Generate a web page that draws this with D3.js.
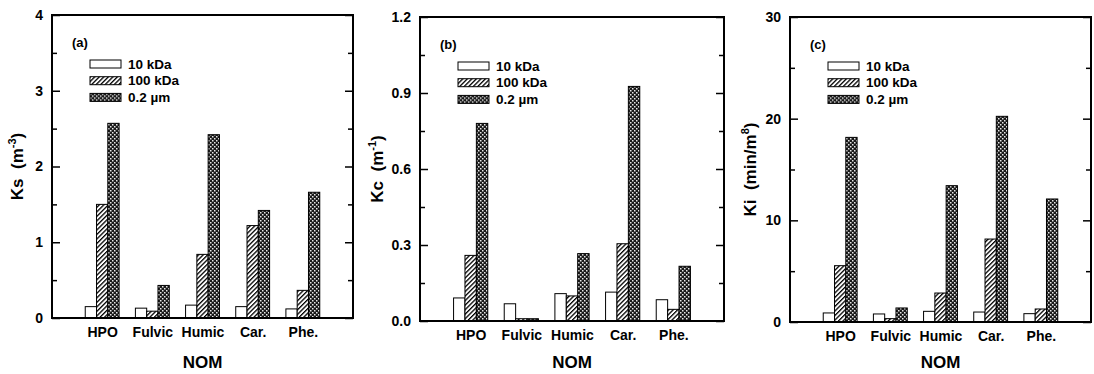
<!DOCTYPE html>
<html>
<head>
<meta charset="utf-8">
<script src="https://cdn.jsdelivr.net/npm/d3@7/dist/d3.min.js"></script>
<style>
  html, body { margin: 0; padding: 0; background: #fff; }
  svg { display: block; }
  text { font-family: Arial, "Liberation Sans", Helvetica, sans-serif; font-weight: bold; fill: #000; }
</style>
</head>
<body>
<svg id="chart" width="1094" height="374"></svg>
<script>
// NOM fractions on the x axis
const categories = ["HPO", "Fulvic", "Humic", "Car.", "Phe."];
// membrane pore sizes (one bar per group)
const seriesNames = ["10 kDa", "100 kDa", "0.2 \u00b5m"];

// (a) Ks, m^-3
const ks10k  = [0.15, 0.13, 0.17, 0.15, 0.12];
const ks100k = [1.50, 0.09, 0.84, 1.22, 0.365];
const ks02   = [2.57, 0.43, 2.42, 1.42, 1.66];
const ksTicks = [0, 1, 2, 3, 4];

// (b) Kc, m^-1
const kc10k  = [0.091, 0.068, 0.108, 0.114, 0.084];
const kc100k = [0.259, 0.009, 0.099, 0.305, 0.046];
const kc02   = [0.78, 0.009, 0.266, 0.926, 0.216];
const kcTicks = [0.0, 0.3, 0.6, 0.9, 1.2];

// (c) Ki, min/m^8
const ki10k  = [0.89, 0.79, 1.05, 0.98, 0.82];
const ki100k = [5.54, 0.33, 2.85, 8.16, 1.28];
const ki02   = [18.16, 1.38, 13.41, 20.23, 12.1];
const kiTicks = [0, 10, 20, 30];

const svg = d3.select("#chart");

// fill patterns: plain, diagonal hatch, dark dotted checker
const defs = svg.append("defs");
const hatch = defs.append("pattern")
  .attr("id", "hatch").attr("patternUnits", "userSpaceOnUse")
  .attr("width", 3.2).attr("height", 3.2)
  .attr("patternTransform", "rotate(45)");
hatch.append("rect").attr("width", 3.2).attr("height", 3.2).attr("fill", "#fff");
hatch.append("rect").attr("width", 1.3).attr("height", 3.2).attr("fill", "#000");

const dots = defs.append("pattern")
  .attr("id", "dots").attr("patternUnits", "userSpaceOnUse")
  .attr("width", 4).attr("height", 4);
dots.append("rect").attr("width", 4).attr("height", 4).attr("fill", "#1a1a1a");
dots.append("rect").attr("x", 0).attr("y", 0).attr("width", 1.5).attr("height", 1.5).attr("fill", "#e8e8e8");
dots.append("rect").attr("x", 2).attr("y", 2).attr("width", 1.5).attr("height", 1.5).attr("fill", "#e8e8e8");

const fills = ["#fff", "url(#hatch)", "url(#dots)"];

const panels = [
  { tag: "(a)", name: "Ks", unit: "m", sup: "-3", series: [ks10k, ks100k, ks02],
    ticks: ksTicks, minor: 0.5, max: 4, fmt: d3.format("d"),
    left: 52, right: 353, top: 15, bottom: 318, ylabX: 17 },
  { tag: "(b)", name: "Kc", unit: "m", sup: "-1", series: [kc10k, kc100k, kc02],
    ticks: kcTicks, minor: 0.15, max: 1.2, fmt: d3.format(".1f"),
    left: 420, right: 724, top: 17, bottom: 321, ylabX: 377 },
  { tag: "(c)", name: "Ki", unit: "min/m", sup: "8", series: [ki10k, ki100k, ki02],
    ticks: kiTicks, minor: 5, max: 30, fmt: d3.format("d"),
    left: 790, right: 1091, top: 17, bottom: 322, ylabX: 750 }
];

const barW = 0.225;  // bar width in x-domain units
const fontFam = "Arial, 'Liberation Sans', sans-serif";

function styleTicks(sel) {
  sel.select(".domain").remove();
  sel.selectAll("line").attr("stroke", "#000").attr("stroke-width", 1.5);
}

panels.forEach(p => {
  const g = svg.append("g");
  const x = d3.scaleLinear().domain([0, categories.length + 1]).range([p.left, p.right]);
  const y = d3.scaleLinear().domain([0, p.max]).range([p.bottom, p.top]);

  // bars
  p.series.forEach((vals, si) => {
    g.append("g").selectAll("rect").data(vals).join("rect")
      .attr("x", (d, i) => x(i + 1 + (si - 1) * barW - barW / 2))
      .attr("width", x(barW) - x(0))
      .attr("y", d => y(d))
      .attr("height", d => y(0) - y(d))
      .attr("fill", fills[si])
      .attr("stroke", "#000").attr("stroke-width", 1);
  });

  // inward ticks on left and right, with minor ticks between
  const minorVals = d3.range(0, p.max + 1e-9, p.minor)
    .filter(v => !p.ticks.some(t => Math.abs(t - v) < 1e-9));

  const la = g.append("g").attr("transform", `translate(${p.left},0)`)
    .call(d3.axisLeft(y).tickValues(p.ticks).tickSizeInner(-8).tickSizeOuter(0)
      .tickPadding(9).tickFormat(p.fmt));
  styleTicks(la);
  la.selectAll("text").style("font-size", "14px").style("font-family", fontFam).style("font-weight", "bold");

  styleTicks(g.append("g").attr("transform", `translate(${p.left},0)`)
    .call(d3.axisLeft(y).tickValues(minorVals).tickSizeInner(-5).tickSizeOuter(0).tickFormat("")));
  styleTicks(g.append("g").attr("transform", `translate(${p.right},0)`)
    .call(d3.axisRight(y).tickValues(p.ticks).tickSizeInner(-8).tickSizeOuter(0).tickFormat("")));
  styleTicks(g.append("g").attr("transform", `translate(${p.right},0)`)
    .call(d3.axisRight(y).tickValues(minorVals).tickSizeInner(-5).tickSizeOuter(0).tickFormat("")));

  // category labels
  const ba = g.append("g").attr("transform", `translate(0,${p.bottom})`)
    .call(d3.axisBottom(x).tickValues(d3.range(1, categories.length + 1))
      .tickFormat(i => categories[i - 1]).tickSize(0).tickPadding(9));
  ba.select(".domain").remove();
  ba.selectAll("text").style("font-size", "14px").style("font-family", fontFam).style("font-weight", "bold");

  // frame
  g.append("rect")
    .attr("x", p.left).attr("y", p.top)
    .attr("width", p.right - p.left).attr("height", p.bottom - p.top)
    .attr("fill", "none").attr("stroke", "#000").attr("stroke-width", 2);

  // x title
  g.append("text")
    .attr("x", (p.left + p.right) / 2).attr("y", 368)
    .attr("text-anchor", "middle").style("font-size", "17px")
    .text("NOM");

  // y title with superscript
  const yt = g.append("text")
    .attr("transform", `translate(${p.ylabX + 6},${(p.top + p.bottom) / 2}) rotate(-90)`)
    .attr("text-anchor", "middle").style("font-size", "17px");
  yt.append("tspan").text(p.name + "\u00a0\u00a0(" + p.unit);
  yt.append("tspan").attr("dy", -7).style("font-size", "11px").text(p.sup);
  yt.append("tspan").attr("dy", 7).text(")");

  // panel tag
  g.append("text").attr("x", p.left + 20).attr("y", p.top + 32)
    .style("font-size", "13px").text(p.tag);

  // legend
  const lg = g.append("g").attr("transform", `translate(${p.left + 38},${p.top + 49})`);
  seriesNames.forEach((s, i) => {
    const row = lg.append("g").attr("transform", `translate(0,${i * 16.7})`);
    row.append("rect").attr("x", 0).attr("y", -4).attr("width", 31).attr("height", 8)
      .attr("fill", fills[i]).attr("stroke", "#000").attr("stroke-width", 1);
    row.append("text").attr("x", 38).attr("y", 0).attr("dy", "0.35em")
      .style("font-size", "13.5px").text(s);
  });
});
</script>
</body>
</html>
